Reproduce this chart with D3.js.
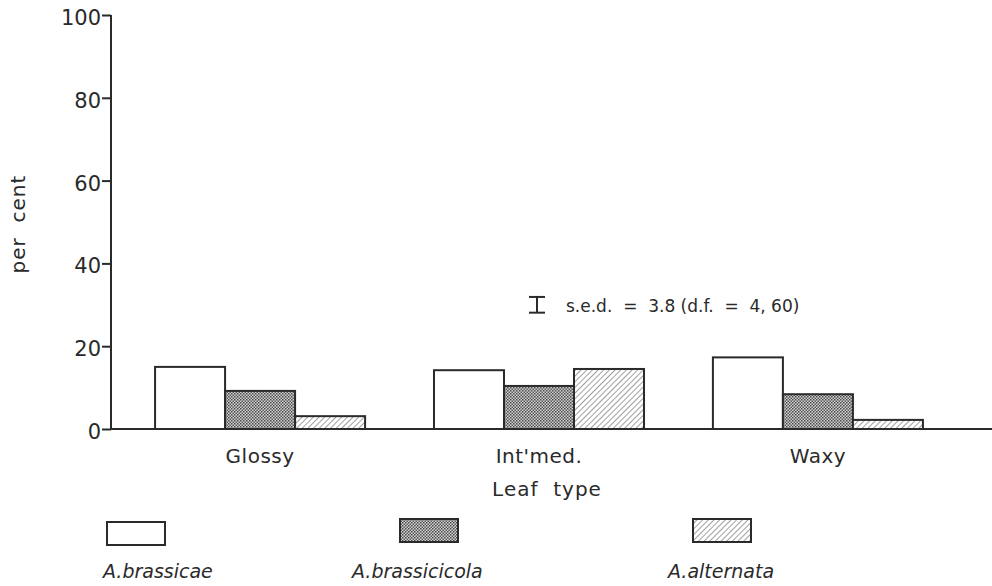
<!DOCTYPE html>
<html><head><meta charset="utf-8">
<script src="https://cdn.jsdelivr.net/npm/d3@7"></script>
<style>body{margin:0;background:#fff}svg{display:block}text{font-family:"DejaVu Sans",sans-serif;fill:#2a2a2a}</style>
</head><body>
<script>
const categories = ["Glossy", "Int'med.", "Waxy"];
const seriesNames = ["A.brassicae", "A.brassicicola", "A.alternata"];
const brassicae = [15.0, 14.2, 17.3];
const brassicicola = [9.2, 10.4, 8.4];
const alternata = [3.1, 14.5, 2.2];
const yTicks = [0, 20, 40, 60, 80, 100];
const sed = 3.8;
const sedLabel = "s.e.d. = 3.8 (d.f. = 4, 60)";
const xTitle = "Leaf type";
const yTitle = "per cent";

const series = [brassicae, brassicicola, alternata];
const W = 992, H = 586;
const svg = d3.select("body").append("svg").attr("width", W).attr("height", H);
const defs = svg.append("defs");
const dots = defs.append("pattern").attr("id","dots").attr("patternUnits","userSpaceOnUse").attr("width",3).attr("height",3);
dots.append("rect").attr("width",3).attr("height",3).attr("fill","#d0d0d0");
dots.append("rect").attr("width",1.5).attr("height",1.5).attr("fill","#4a4a4a");
dots.append("rect").attr("x",1.5).attr("y",1.5).attr("width",1.5).attr("height",1.5).attr("fill","#5a5a5a");
const hatch = defs.append("pattern").attr("id","hatch").attr("patternUnits","userSpaceOnUse").attr("width",4).attr("height",4).attr("patternTransform","rotate(45)");
hatch.append("rect").attr("width",4).attr("height",4).attr("fill","#fff");
hatch.append("line").attr("x1",0).attr("y1",0).attr("x2",0).attr("y2",4).attr("stroke","#888").attr("stroke-width",1.6);
const fills = ["#fff", "url(#dots)", "url(#hatch)"];

const x0 = 111, y0 = 429;
const y = d3.scaleLinear().domain([0, 100]).range([y0, 15]);
const x = d3.scaleBand().domain(categories).range([x0, 967]).paddingInner(0.247).paddingOuter(0.158);
const xs = d3.scaleBand().domain(d3.range(3)).range([0, x.bandwidth()]);

// bars
categories.forEach((c, ci) => {
  series.forEach((s, si) => {
    svg.append("rect")
      .attr("x", x(c) + xs(si)).attr("y", y(s[ci]))
      .attr("width", xs.bandwidth()).attr("height", y(0) - y(s[ci]))
      .attr("fill", fills[si]).attr("stroke", "#2a2a2a").attr("stroke-width", 2);
  });
});

// y axis
const yAxis = svg.append("g").attr("transform", `translate(${x0},0)`)
  .call(d3.axisLeft(y).tickValues(yTicks).tickSize(9).tickPadding(1));
yAxis.select(".domain").attr("stroke", "#2a2a2a").attr("stroke-width", 2).attr("d", `M0,${y(100)}V${y(0)}`);
yAxis.selectAll(".tick line").attr("stroke", "#2a2a2a").attr("stroke-width", 2);
yAxis.selectAll(".tick text").attr("font-size", 21).attr("fill", "#2a2a2a").attr("dy", "0.45em").attr("font-family", '"DejaVu Sans",sans-serif');

// x axis line
svg.append("line").attr("x1", x0).attr("x2", W).attr("y1", y0).attr("y2", y0).attr("stroke", "#2a2a2a").attr("stroke-width", 2);
const xAxis = svg.append("g").attr("transform", `translate(0,${y0})`).call(d3.axisBottom(x).tickSize(0).tickPadding(20));
xAxis.select(".domain").remove();
xAxis.selectAll(".tick text").attr("font-size", 20).attr("letter-spacing", 0.5).attr("fill", "#2a2a2a").attr("font-family", '"DejaVu Sans",sans-serif');

svg.append("text").attr("x", 547).attr("y", 496).attr("text-anchor","middle").attr("font-size", 20).attr("letter-spacing", 1).attr("xml:space","preserve").text(xTitle.replace(" ", "  "));
svg.append("text").attr("transform", `translate(25,224) rotate(-90)`).attr("text-anchor","middle").attr("font-size", 20).attr("letter-spacing", 1).attr("xml:space","preserve").text(yTitle.replace(" ", "  "));

// sed bar
const sx = 537, sc = y(30);
const half = (y(0) - y(sed)) / 2;
const sg = svg.append("g").attr("stroke", "#2a2a2a").attr("stroke-width", 2);
sg.append("line").attr("x1", sx).attr("x2", sx).attr("y1", sc - half).attr("y2", sc + half);
sg.append("line").attr("x1", sx-8).attr("x2", sx+8).attr("y1", sc - half).attr("y2", sc - half);
sg.append("line").attr("x1", sx-8).attr("x2", sx+8).attr("y1", sc + half).attr("y2", sc + half);
svg.append("text").attr("x", 566).attr("y", sc + 7).attr("font-size", 17).attr("xml:space","preserve").text(sedLabel.replace(/ = /g, "  =  "));

// legend
const legX = [107, 400, 693], legBoxY = [522, 519, 519];
const legTX = [103, 352, 668];
seriesNames.forEach((n, i) => {
  svg.append("rect").attr("x", legX[i]).attr("y", legBoxY[i]).attr("width", 58).attr("height", 23)
    .attr("fill", fills[i]).attr("stroke", "#2a2a2a").attr("stroke-width", 2);
  svg.append("text").attr("x", legTX[i]).attr("y", 578).attr("font-size", 19).attr("font-style","italic").text(n);
});
</script>
</body></html>
